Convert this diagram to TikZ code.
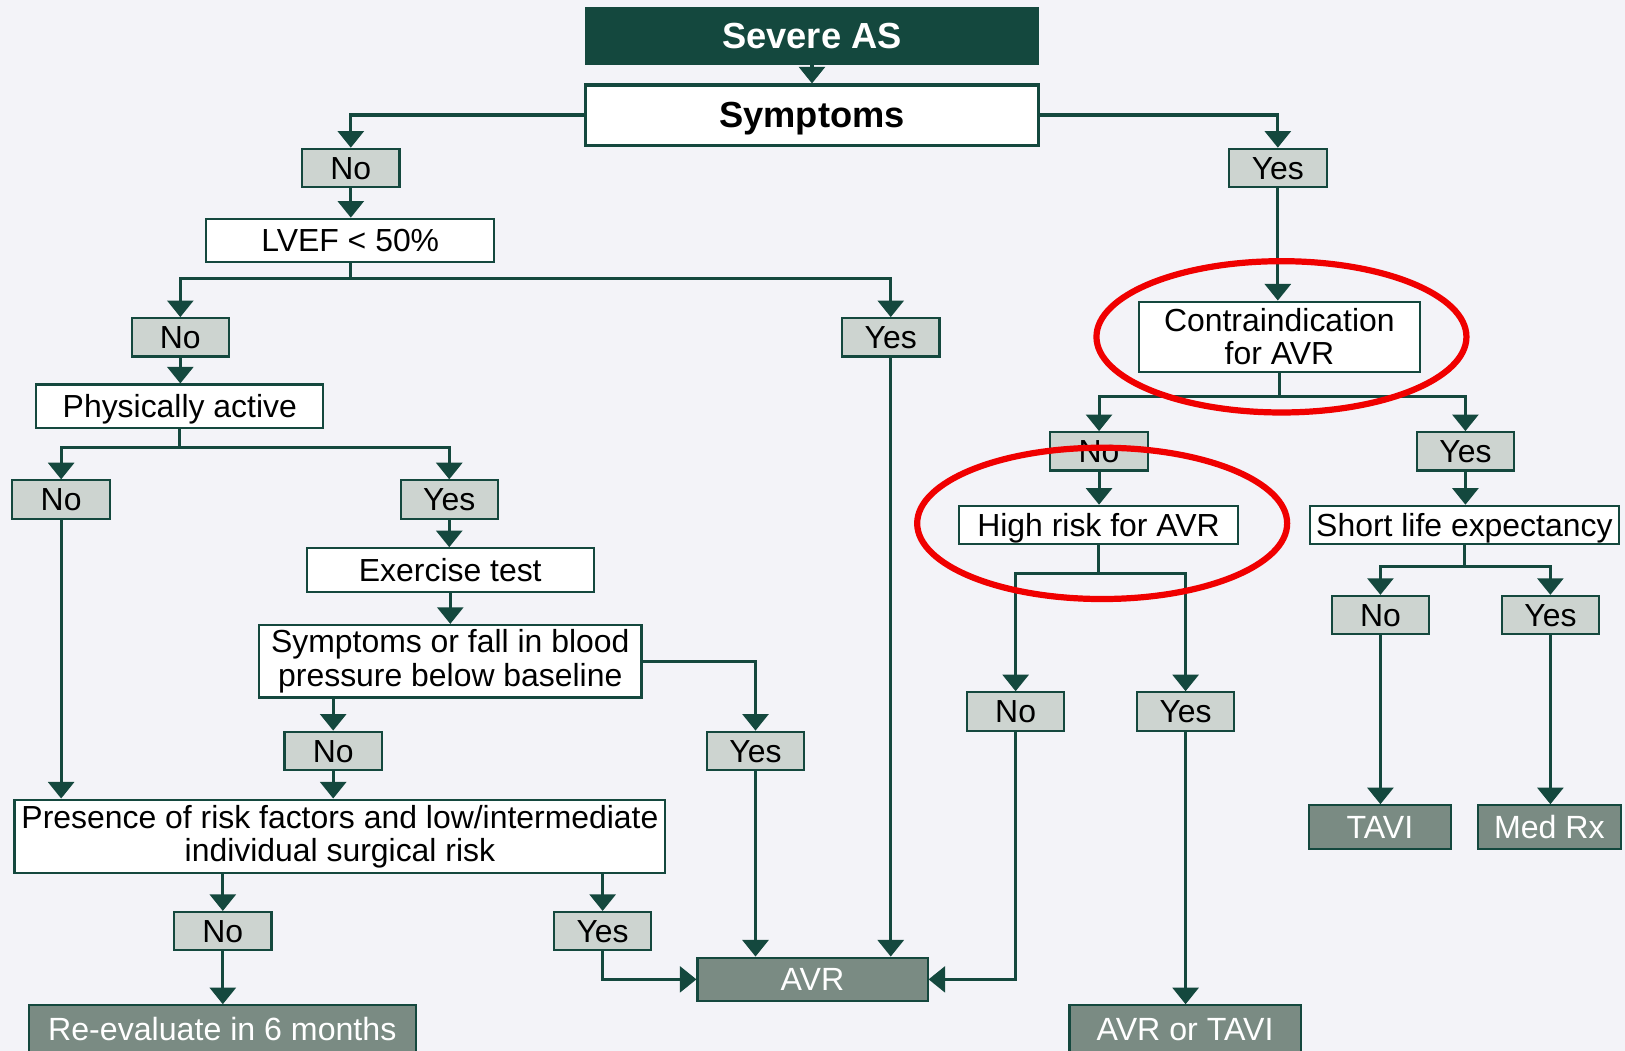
\documentclass[tikz,border=0pt]{standalone}
\usepackage{fontspec}
\setmainfont{Liberation Sans}
\usetikzlibrary{arrows.meta}
\definecolor{dg}{RGB}{20,72,62}
\definecolor{lg}{RGB}{205,212,208}
\definecolor{mg}{RGB}{122,139,131}
\definecolor{bg}{RGB}{243,243,248}
\definecolor{rd}{RGB}{240,0,0}
\tikzset{
  ln/.style={draw=dg, line width=1.5pt},
  arr/.style={ln, -{Triangle[width=12.5pt,length=8pt]}},
  txt/.style={font=\fontsize{15.4}{16}\selectfont, inner sep=0pt, align=center},
  one/.style={text height=11pt, text depth=0pt},
  big/.style={text height=12.5pt, text depth=0pt},
  wbox/.style={txt, draw=dg, line width=1pt, fill=white},
  lab/.style={txt, one, draw=dg, line width=1pt, fill=lg, minimum width=47pt, minimum height=18.5pt},
  dbox/.style={txt, one, font=\fontsize{15.5}{16}\selectfont, draw=dg, line width=1pt, fill=mg, text=white},
  ring/.style={draw=rd, line width=3pt}
}
\begin{document}
\begin{tikzpicture}[x=0.5pt,y=-0.5pt]
\useasboundingbox (0,0) rectangle (1568,1014);
\clip (0,0) rectangle (1568,1014);
\fill[bg] (0,0) rectangle (1568,1014);

% nodes
\node[txt, big, draw=dg, fill=dg, text=white, font=\fontsize{17.5}{20}\selectfont\bfseries, minimum width=218.5pt, minimum height=27.5pt] (sev) at (783.5,34.5) {Severe AS};
\node[wbox, big, line width=1.5pt, font=\fontsize{17.5}{20}\selectfont\bfseries, minimum width=218.5pt, minimum height=29pt] (sym) at (783.5,111) {Symptoms};
\node[lab] (no1) at (338.5,162) {No};
\node[lab] (yes1) at (1233,162) {Yes};
\node[wbox, one, minimum width=139pt, minimum height=21pt] (lvef) at (338,232) {LVEF {\textless} 50\%};
\node[lab] (no2) at (174,325.5) {No};
\node[lab] (yes2) at (859.5,325.5) {Yes};
\node[wbox, one, minimum width=138.5pt, minimum height=21pt] (phys) at (173.5,392) {Physically active};
\node[lab] (no3) at (59,482) {No};
\node[lab] (yes3) at (433.5,482) {Yes};
\node[wbox, one, minimum width=138.5pt, minimum height=21pt] (ex) at (434.5,550) {Exercise test};
\node[wbox, minimum width=184.5pt, minimum height=35pt] (symf) at (434.5,638) {Symptoms or fall in blood\\pressure below baseline};
\node[lab] (no4) at (321.5,724.5) {No};
\node[lab] (yes4) at (729,724.5) {Yes};
\node[wbox, minimum width=314pt, minimum height=35.5pt] (pres) at (328,807) {Presence of risk factors and low/intermediate\\individual surgical risk};
\node[lab] (no5) at (215,898.5) {No};
\node[lab] (yes5) at (581.5,898.5) {Yes};
\node[dbox, minimum width=186.5pt, minimum height=23pt] (reev) at (214.5,993) {Re-evaluate in 6 months};
\node[dbox, minimum width=111pt, minimum height=21pt] (avr) at (784,945) {AVR};
\node[wbox, minimum width=135.5pt, minimum height=34pt] (contra) at (1234.5,325) {Contraindication\\for AVR};
\node[lab] (no6) at (1060.5,435.5) {No};
\node[lab] (yes6) at (1414,435.5) {Yes};
\node[wbox, one, minimum width=135pt, minimum height=18.5pt] (high) at (1060,506.5) {High risk for AVR};
\node[wbox, one, minimum width=149pt, minimum height=18.5pt] (short) at (1413,506.5) {Short life expectancy};
\node[lab] (no7) at (980,686.5) {No};
\node[lab] (yes7) at (1144,686.5) {Yes};
\node[lab] (no8) at (1332,593.5) {No};
\node[lab] (yes8) at (1496,593.5) {Yes};
\node[dbox, minimum width=68.5pt, minimum height=21pt] (tavi) at (1331.5,798) {TAVI};
\node[dbox, minimum width=69pt, minimum height=21pt] (medrx) at (1495,798) {Med Rx};
\node[dbox, minimum width=111.5pt, minimum height=23pt] (avrtavi) at (1143.5,993) {AVR or TAVI};

% connectors
\draw[arr] (sev.south) -- (sym.north);
\draw[arr] (sym.west) -| (no1.north);
\draw[arr] (sym.east) -| (yes1.north);
\draw[arr] (no1.south) -- (no1.south |- lvef.north);
\draw[arr] (lvef.south) -- ++(0,15) -| (no2.north);
\draw[arr] (lvef.south) -- ++(0,15) -| (yes2.north);
\draw[arr] (no2.south) -- (no2.south |- phys.north);
\draw[arr] (phys.south) -- ++(0,18) -| (no3.north);
\draw[arr] (phys.south) -- ++(0,18) -| (yes3.north);
\draw[arr] (yes3.south) -- (yes3.south |- ex.north);
\draw[arr] (ex.south) -- (symf.north);
\draw[arr] (symf.east) -| (yes4.north);
\draw[arr] (no4.north |- symf.south) -- (no4.north);
\draw[arr] (no4.south) -- (no4.south |- pres.north);
\draw[arr] (no3.south) -- (no3.south |- pres.north);
\draw[arr] (no5.north |- pres.south) -- (no5.north);
\draw[arr] (yes5.north |- pres.south) -- (yes5.north);
\draw[arr] (no5.south) -- (no5.south |- reev.north);
\draw[arr] (yes5.south) |- (avr.west);
\draw[arr] (yes4.south) -- (yes4.south |- avr.north);
\draw[arr] (yes2.south) -- (yes2.south |- avr.north);
\draw[arr] (no7.south) |- (avr.east);
\draw[arr] (yes1.south) -- (yes1.south |- contra.north);
\draw[arr] (contra.south) -- ++(0,23) -| (no6.north);
\draw[arr] (contra.south) -- ++(0,23) -| (yes6.north);
\draw[arr] (no6.south) -- (no6.south |- high.north);
\draw[arr] (high.south) -- ++(0,27) -| (no7.north);
\draw[arr] (high.south) -- ++(0,27) -| (yes7.north);
\draw[arr] (yes7.south) -- (yes7.south |- avrtavi.north);
\draw[arr] (yes6.south) -- (yes6.south |- short.north);
\draw[arr] (short.south) -- ++(0,21) -| (no8.north);
\draw[arr] (short.south) -- ++(0,21) -| (yes8.north);
\draw[arr] (no8.south) -- (no8.south |- tavi.north);
\draw[arr] (yes8.south) -- (yes8.south |- medrx.north);

% red highlight rings
\draw[ring] (1236.5,325) ellipse [x radius=89.25pt, y radius=36.5pt];
\draw[ring] (1063.5,505) ellipse [x radius=89.25pt, y radius=36.5pt];
\end{tikzpicture}
\end{document}
